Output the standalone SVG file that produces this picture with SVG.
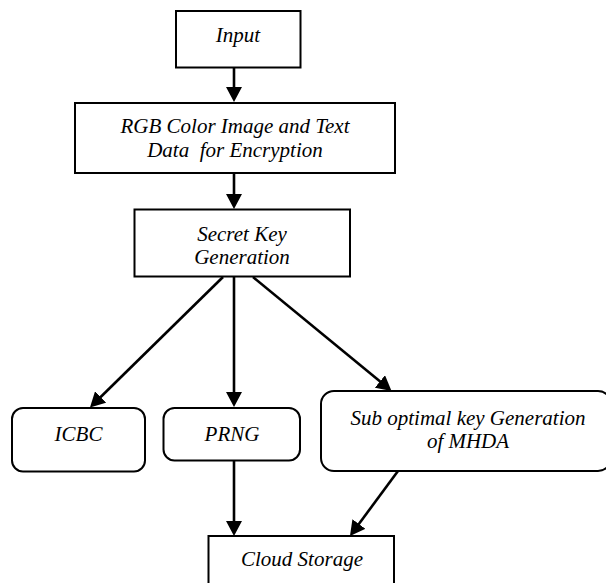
<svg xmlns="http://www.w3.org/2000/svg" width="606" height="583" viewBox="0 0 606 583">
  <style>
    .box { fill: #ffffff; stroke: #000000; stroke-width: 2; }
    .lbl { font-family: "Liberation Serif", "DejaVu Serif", serif; font-style: italic; font-size: 21px; fill: #000000; text-anchor: middle; white-space: pre; }
    .conn { stroke: #000000; stroke-width: 2.6; fill: none; marker-end: url(#arrow); }
  </style>
  <defs>
    <marker id="arrow" markerUnits="userSpaceOnUse" markerWidth="16" markerHeight="16" refX="5" refY="8" orient="auto">
      <path d="M0,0 L15,8 L0,16 z" fill="#000000"/>
    </marker>
  </defs>
  <rect x="0" y="0" width="606" height="583" fill="#ffffff"/>

  <g id="connectors">
    <line class="conn" x1="234" y1="68" x2="234" y2="92"/>
    <line class="conn" x1="234" y1="173" x2="234" y2="199"/>
    <line class="conn" x1="223" y1="277" x2="97.1" y2="400.5"/>
    <line class="conn" x1="234" y1="277" x2="234" y2="397"/>
    <line class="conn" x1="253" y1="277" x2="383.8" y2="384.6"/>
    <line class="conn" x1="234" y1="461" x2="234" y2="526"/>
    <line class="conn" x1="398" y1="471" x2="355.9" y2="528"/>
  </g>

  <g id="input">
    <rect class="box" x="176" y="11" width="124.5" height="56.5"/>
    <text class="lbl" x="238" y="42">Input</text>
  </g>

  <g id="rgb">
    <rect class="box" x="75" y="103" width="320" height="70"/>
    <text class="lbl" x="235" y="133">RGB Color Image and Text</text>
    <text class="lbl" x="235" y="157">Data  for Encryption</text>
  </g>

  <g id="secret-key">
    <rect class="box" x="134.5" y="209.5" width="215.5" height="67"/>
    <text class="lbl" x="242" y="240.5">Secret Key</text>
    <text class="lbl" x="242" y="263.5">Generation</text>
  </g>

  <g id="icbc">
    <rect class="box" x="12" y="408" width="133" height="63.5" rx="11" ry="11"/>
    <text class="lbl" x="78.5" y="441">ICBC</text>
  </g>

  <g id="prng">
    <rect class="box" x="163.5" y="408" width="136.5" height="52.5" rx="11" ry="11"/>
    <text class="lbl" x="232" y="441">PRNG</text>
  </g>

  <g id="sub-optimal">
    <rect class="box" x="321" y="391" width="290" height="80" rx="13" ry="13"/>
    <text class="lbl" x="468" y="425">Sub optimal key Generation</text>
    <text class="lbl" x="468" y="448">of MHDA</text>
  </g>

  <g id="cloud-storage">
    <rect class="box" x="208.5" y="536" width="185.5" height="60"/>
    <text class="lbl" x="302" y="566">Cloud Storage</text>
  </g>
</svg>
